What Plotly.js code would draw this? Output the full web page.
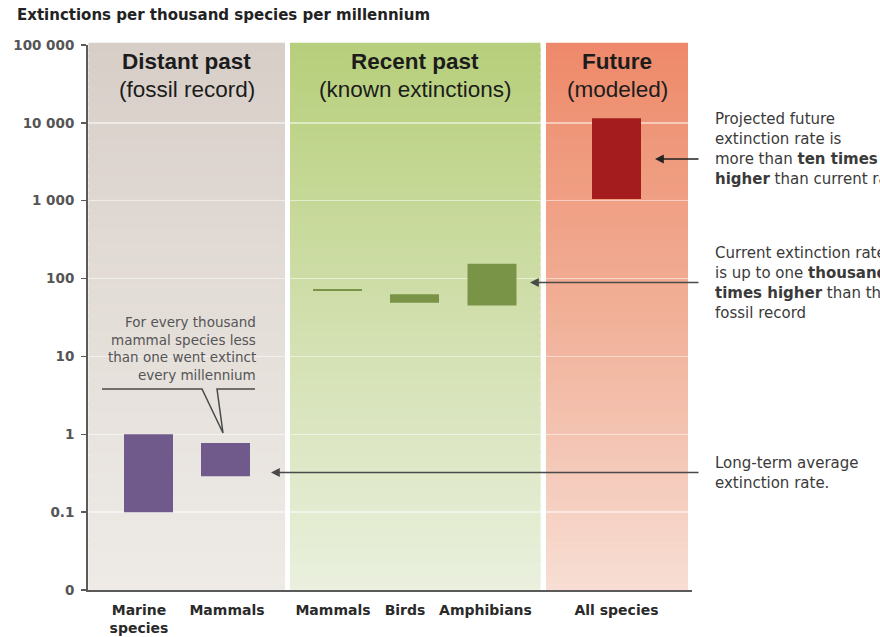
<!DOCTYPE html>
<html>
<head>
<meta charset="utf-8">
<script src="https://cdn.plot.ly/plotly-3.0.1.min.js"></script>
<style>
  html, body { margin: 0; padding: 0; background: #ffffff; }
  #chart { width: 880px; height: 637px; }
</style>
</head>
<body>
<div id="chart"></div>
<script>
// Extinctions per thousand species per millennium: low and high estimate per group
const groups   = ['Marine<br>species', 'Mammals', 'Mammals', 'Birds', 'Amphibians', 'All species'];
const rateLow  = [0.1, 0.29, 69, 49, 45, 1050];
const rateHigh = [1.0, 0.77, 73.5, 63, 155, 11500];
const groupEra = [0, 0, 1, 1, 1, 2];

const eraTitles    = ['Distant past', 'Recent past', 'Future'];
const eraSubtitles = ['(fossil record)', '(known extinctions)', '(modeled)'];

const yTickValues = [0.01, 0.1, 1, 10, 100, 1000, 10000, 100000];
const yTickLabels = ['0', '0.1', '1', '10', '100', '1 000', '10 000', '100 000'];

// ---- layout constants ----
const W = 880, H = 637;
const M = { l: 88, r: 188, t: 45, b: 47 };
const plotW = W - M.l - M.r;   // x axis runs 0..plotW
const plotH = H - M.t - M.b;
const barX   = [60.5, 137.5, 249.5, 326.5, 404, 528.5];
const labelX = [51, 139, 245, 317, 397.5, 528.5];
const barWidth = 49;
const eraColors = ['#6f5a8b', '#7a9447', '#a51c1f'];

// background panels, colour stops from bottom (0) to top (1)
const panels = [
  { x0: 0.5, x1: 197, stops: [[0, [238, 235, 230]], [0.5, [228, 222, 217]], [1, [216, 206, 200]]] },
  { x0: 202, x1: 452.5, stops: [[0, [234, 240, 222]], [0.5, [209, 223, 173]], [1, [183, 207, 123]]] },
  { x0: 458, x1: 600, stops: [[0, [247, 222, 212]], [0.5, [241, 176, 152]], [1, [238, 138, 106]]] }
];

const px2paperY = y => (H - M.b - y) / plotH;
const px2paperX = x => (x - M.l) / plotW;
const px2dataX  = x => x - M.l;

function mix(stops, t) {
  for (let i = 0; i < stops.length - 1; i++) {
    const [t0, c0] = stops[i], [t1, c1] = stops[i + 1];
    if (t <= t1) {
      const f = (t - t0) / (t1 - t0);
      const c = c0.map((v, k) => Math.round(v + (c1[k] - v) * f));
      return 'rgb(' + c.join(',') + ')';
    }
  }
  const c = stops[stops.length - 1][1];
  return 'rgb(' + c.join(',') + ')';
}

const shapes = [];
const STRIPS = 80;
panels.forEach(p => {
  for (let i = 0; i < STRIPS; i++) {
    const t = (i + 0.5) / STRIPS;
    shapes.push({
      type: 'rect', layer: 'below', xref: 'x', yref: 'paper',
      x0: p.x0, x1: p.x1,
      y0: i / STRIPS, y1: Math.min(1.004, (i + 1.6) / STRIPS),
      fillcolor: mix(p.stops, t), line: { width: 0 }
    });
  }
});

// callout bracket over the fossil-record mammals bar
const callY = px2paperY(389), tipY = px2paperY(433);
shapes.push({
  type: 'path', xref: 'x', yref: 'paper', layer: 'above',
  path: 'M' + px2dataX(102) + ',' + callY +
        ' L' + px2dataX(202) + ',' + callY +
        ' L' + px2dataX(223) + ',' + tipY +
        ' L' + px2dataX(217) + ',' + callY +
        ' L' + px2dataX(255) + ',' + callY,
  line: { color: '#4a4a4a', width: 1.5 }
});

// floating bars, one trace per era
const traces = [0, 1, 2].map(era => {
  const idx = groupEra.map((e, i) => e === era ? i : -1).filter(i => i >= 0);
  return {
    type: 'bar',
    x: idx.map(i => barX[i]),
    base: idx.map(i => rateLow[i]),
    y: idx.map(i => rateHigh[i] - rateLow[i]),
    width: barWidth,
    marker: { color: eraColors[era], line: { width: 0 } },
    hoverinfo: 'skip',
    showlegend: false
  };
});

const annotations = [];
const sansFont = 'DejaVu Sans, Verdana, sans-serif';
const headFont = 'Liberation Sans, Arial, Helvetica, sans-serif';

// era headings
const eraCenters = panels.map(p => (p.x0 + p.x1) / 2);
eraTitles.forEach((t, i) => {
  annotations.push({
    xref: 'x', yref: 'paper', x: eraCenters[i], y: px2paperY(62),
    text: '<b>' + t + '</b>', showarrow: false, xanchor: 'center', yanchor: 'middle',
    font: { family: headFont, size: 22.5, color: '#1c1c1c' }
  });
  annotations.push({
    xref: 'x', yref: 'paper', x: eraCenters[i], y: px2paperY(90),
    text: eraSubtitles[i], showarrow: false, xanchor: 'center', yanchor: 'middle',
    font: { family: headFont, size: 22.5, color: '#1c1c1c' }
  });
});

// callout text, right aligned
const calloutLines = ['For every thousand', 'mammal species less', 'than one went extinct', 'every millennium'];
const calloutY = [322, 339.5, 357, 374.5];
calloutLines.forEach((t, i) => {
  annotations.push({
    xref: 'x', yref: 'paper', x: px2dataX(258), y: px2paperY(calloutY[i]),
    text: t, showarrow: false, xanchor: 'right', yanchor: 'middle',
    font: { family: sansFont, size: 13.5, color: '#555555' }
  });
});

// side notes
const notes = [
  { lines: ['Projected future', 'extinction rate is', 'more than <b>ten times</b>', '<b>higher</b> than current rate'], y: [119, 139, 159, 179] },
  { lines: ['Current extinction rate', 'is up to one <b>thousand</b>', '<b>times higher</b> than the', 'fossil record'], y: [253, 273, 293, 313] },
  { lines: ['Long-term average', 'extinction rate.'], y: [463, 483] }
];
notes.forEach(n => {
  n.lines.forEach((t, i) => {
    annotations.push({
      xref: 'paper', yref: 'paper', x: px2paperX(713), y: px2paperY(n.y[i]),
      text: t, showarrow: false, xanchor: 'left', yanchor: 'middle',
      font: { family: sansFont, size: 15, color: '#3a3a3a' }
    });
  });
});

// pointer arrows: head position in px and tail at x = 700 px
const arrows = [
  { hx: 655, hy: 159, color: '#222222' },
  { hx: 530, hy: 282.5, color: '#4a4a4a' },
  { hx: 271, hy: 472.5, color: '#4a4a4a' }
];
arrows.forEach(a => {
  annotations.push({
    xref: 'paper', yref: 'paper', x: px2paperX(a.hx), y: px2paperY(a.hy),
    ax: 700 - a.hx, ay: 0, text: '', showarrow: true,
    arrowhead: 2, arrowsize: 1.1, arrowwidth: 1.6, arrowcolor: a.color, standoff: 0
  });
});

// chart title
annotations.push({
  xref: 'paper', yref: 'paper', x: px2paperX(15), y: px2paperY(15),
  text: '<b>Extinctions per thousand species per millennium</b>', showarrow: false,
  xanchor: 'left', yanchor: 'middle',
  font: { family: sansFont, size: 15, color: '#222222' }
});

const layout = {
  width: W, height: H,
  margin: M,
  paper_bgcolor: '#ffffff', plot_bgcolor: '#ffffff',
  showlegend: false,
  hovermode: false,
  barmode: 'overlay',
  xaxis: {
    range: [0, plotW], fixedrange: true,
    tickmode: 'array', tickvals: labelX, ticktext: groups,
    ticks: '', showgrid: false, zeroline: false,
    showline: true, linecolor: '#5a5a5a', linewidth: 2,
    ticklabelstandoff: 6,
    tickfont: { family: sansFont, size: 14, color: '#2a2a2a', weight: 'bold' }
  },
  yaxis: {
    type: 'log', range: [-2, 5], fixedrange: true,
    tickmode: 'array', tickvals: yTickValues, ticktext: yTickLabels,
    ticks: 'outside', ticklen: 5, tickwidth: 1.5, tickcolor: '#5a5a5a',
    showgrid: true, gridcolor: 'rgba(255,255,255,0.5)', gridwidth: 1.5,
    zeroline: false,
    showline: true, linecolor: '#5a5a5a', linewidth: 2,
    ticklabelstandoff: 4,
    tickfont: { family: sansFont, size: 13.5, color: '#555555', weight: 'bold' }
  },
  shapes: shapes,
  annotations: annotations
};

Plotly.newPlot('chart', traces, layout, { displayModeBar: false, staticPlot: true });
</script>
</body>
</html>
